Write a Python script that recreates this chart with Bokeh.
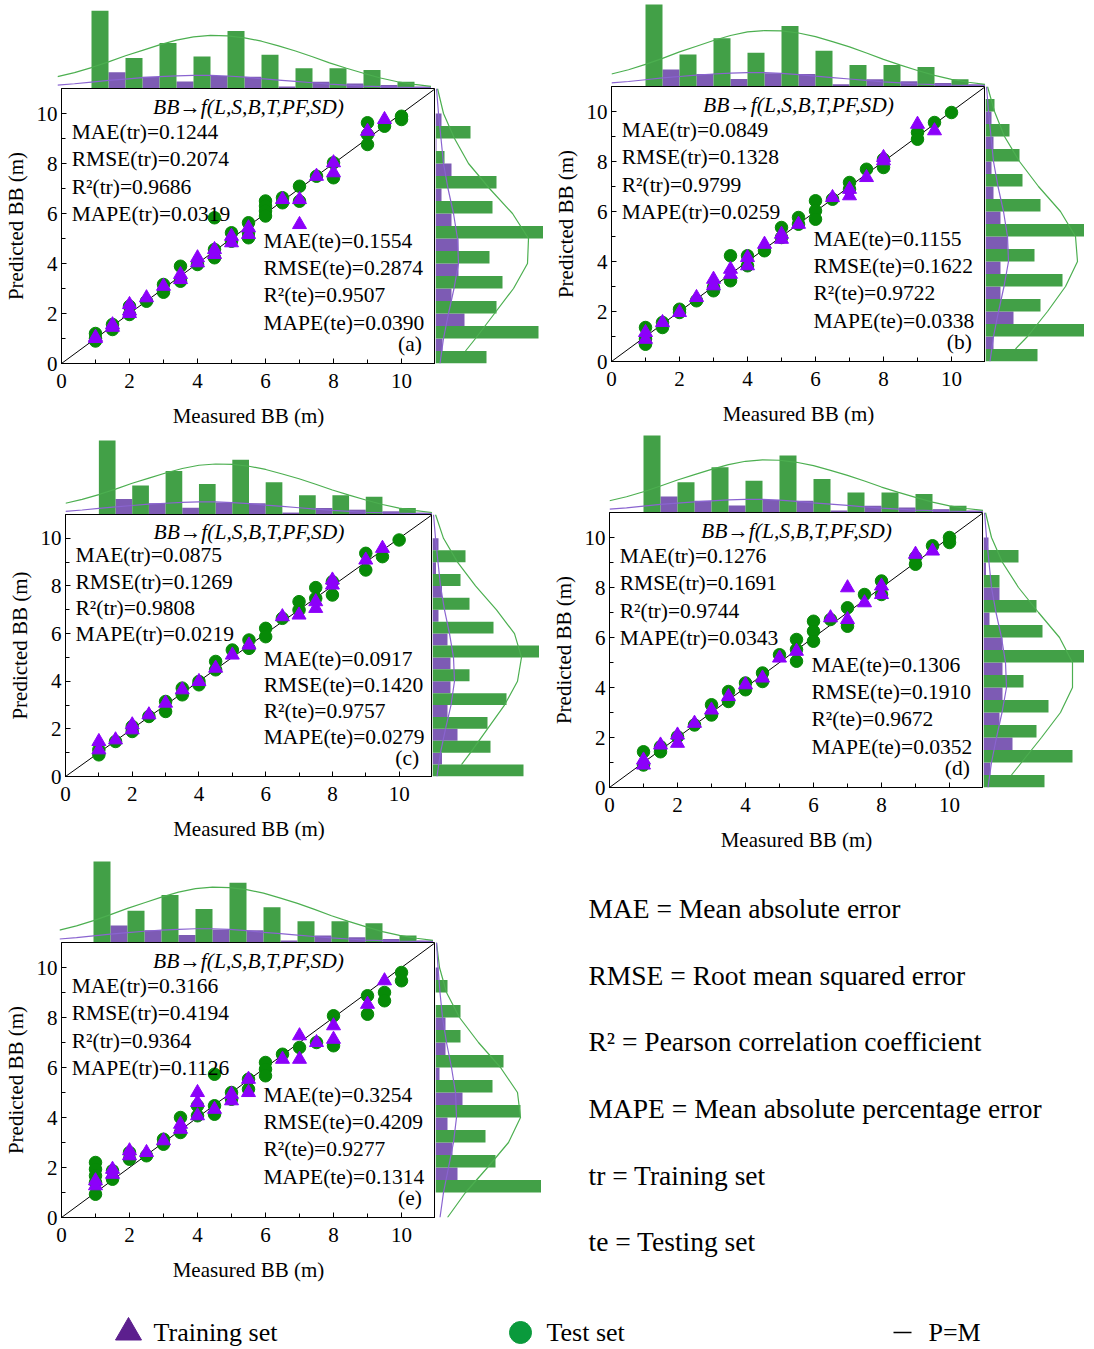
from bokeh.plotting import figure
from bokeh.models import Range1d, SingleIntervalTicker
from bokeh.layouts import column, row
from bokeh.embed import file_html
from bokeh.resources import INLINE
from bokeh.core.properties import value

FONT = "Liberation Serif"
GREEN_PT = "#078a07"
PURPLE_PT = "#8c00fa"
GREEN_H = "#42a047"
PURPLE_H = "#7d5bb4"
GREEN_L = "#4caf50"
PURPLE_L = "#8a64d0"

# ---------------- shared marginal (measured BB) histogram ----------------
top_green_left = [1, 2, 3, 4, 5, 6, 7, 8, 9, 10]
top_green = [23, 9, 13.5, 9.5, 17, 10, 6, 6, 5.5, 2]
top_purple_left = [1.5, 2.5, 3.5, 4.5, 5.5, 6.5, 7.5, 8.5, 9.5, 10.5]
top_purple = [4.8, 3.5, 2.1, 3.7, 3.5, 0.6, 2.0, 1.5, 1.0, 0.6]
top_kde_x = [0, 0.5, 1, 1.5, 2, 2.5, 3, 3.5, 4, 4.5, 5, 5.5, 6, 6.5, 7, 7.5, 8, 8.5, 9, 9.5,
             10, 10.5, 11]
top_kde_green = [3.5, 4.7, 6.2, 7.9, 9.7, 11.3, 12.9, 14.3, 15.3, 15.7, 15.6, 15.0, 14.0, 12.6,
                 11.1, 9.4, 7.6, 6.0, 4.5, 3.1, 2.0, 1.2, 0.6]
top_kde_purple = [1.0, 1.4, 1.9, 2.4, 2.8, 3.2, 3.5, 3.75, 3.9, 3.9, 3.7, 3.35, 2.9, 2.5, 2.1,
                  1.7, 1.3, 1.0, 0.7, 0.55, 0.4, 0.3, 0.2]

# right (predicted BB) histogram bins
right_green_low = [0, 1, 2, 3, 4, 5, 6, 7, 8, 9, 10]
right_purple_low = [0.5, 1.5, 2.5, 3.5, 4.5, 5.5, 6.5, 7.5, 8.5, 9.5]
rk_y = [0.5, 1, 2, 3, 4, 5, 6, 7, 8, 9, 10, 11]
rk_y_e = [0, 1, 2, 3, 4, 5, 6, 7, 8, 9, 10, 11]
rk_purple_y = [0, 1, 2, 3, 4, 5, 6, 7, 8, 9, 10, 11]

# ---------------- panel (a) ----------------
a_test_x = [1, 1, 1, 1.5, 1.5, 2, 2, 2.5, 3, 3, 3.5, 3.5, 4, 4.5, 4.5, 4.5, 5, 5, 5.5, 5.5, 5.5,
            6, 6, 6, 6, 6.5, 6.5, 7, 7, 7.5, 8, 8, 9, 9, 9, 9.5, 10, 10]
a_test_y = [1.2, 1.0, 0.9, 1.56, 1.36, 2.29, 1.96, 2.49, 3.16, 2.85, 3.89, 3.29, 3.96, 5.83, 4.56, 4.23,
            5.23, 4.89, 5.63, 5.23, 5.03, 6.5, 6.3, 6.1, 5.9, 6.63, 6.43, 7.09, 6.49, 7.49, 8.03, 7.43,
            9.63, 9.16, 8.76, 9.49, 9.89, 9.76]
a_train_x = [1, 1, 1.5, 1.5, 2, 2, 2, 2.5, 3, 3.5, 3.5, 4, 4, 4.5, 4.5, 5, 5, 5.5, 5.5, 6.5, 7, 7,
             7.5, 8, 8, 9, 9.5]
a_train_y = [1.0, 1.05, 1.55, 1.45, 2.36, 2.1, 2.0, 2.63, 3.09, 3.56, 3.36, 4.23, 4.03, 4.56, 4.36,
             5.09, 4.83, 5.43, 5.16, 6.56, 6.56, 5.56, 7.49, 8.03, 7.63, 9.29, 9.76]
a_right_green = [51, 103, 61, 67, 54, 110, 57, 61, 9, 35, 0]
a_right_purple = [7, 29, 16, 23, 23, 16, 6, 16, 1, 6]
a_rk_green = [30, 40, 59, 78, 92, 93, 77, 54, 33, 19, 8, 2]
a_rk_purple = [4.5, 8, 13, 18.5, 23, 22, 18, 12.5, 8, 5.5, 3, 1]
a_tr = ["MAE(tr)=0.1244", "RMSE(tr)=0.2074", "R²(tr)=0.9686", "MAPE(tr)=0.0319"]
a_te = ["MAE(te)=0.1554", "RMSE(te)=0.2874", "R²(te)=0.9507", "MAPE(te)=0.0390"]

# ---------------- panel (b) ----------------
b_test_x = [1, 1, 1, 1.5, 1.5, 2, 2, 2.5, 3, 3, 3.5, 3.5, 4, 4, 4.5, 5, 5, 5.5, 5.5, 6, 6, 6,
            6.5, 7, 7, 7.5, 8, 8, 9, 9, 9.5, 10]
b_test_y = [1.36, 0.9, 0.69, 1.56, 1.36, 2.09, 1.96, 2.43, 2.96, 2.83, 4.23, 3.23, 4.23, 3.83, 4.43,
            5.36, 4.96, 5.76, 5.49, 6.43, 6.03, 5.69, 6.49, 7.16, 6.89, 7.69, 8.09, 7.76, 9.16, 8.89,
            9.56, 9.96]
b_train_x = [1, 1, 1.5, 2, 2.5, 3, 3, 3.5, 3.5, 4, 4, 4.5, 5, 5, 5.5, 6.5, 7, 7, 7.5, 8, 8, 9, 9.5]
b_train_y = [1.16, 0.89, 1.56, 1.96, 2.56, 3.29, 3.03, 3.69, 3.49, 4.16, 3.83, 4.69, 5.09, 4.89, 5.49,
             6.56, 6.89, 6.63, 7.36, 8.16, 8.03, 9.49, 9.23]
b_right_green = [52, 99, 55, 77, 49, 107, 55, 37, 34, 24, 9]
b_right_purple = [8, 28, 15, 15, 22, 15, 8, 6, 8, 6]
b_rk_green = [30, 42, 62, 80, 92, 90, 75, 53, 34, 19, 9, 2]
b_rk_purple = [4.5, 8, 13, 18.5, 23, 22, 18, 12.5, 8, 5.5, 3, 1]
b_tr = ["MAE(tr)=0.0849", "RMSE(tr)=0.1328", "R²(tr)=0.9799", "MAPE(tr)=0.0259"]
b_te = ["MAE(te)=0.1155", "RMSE(te)=0.1622", "R²(te)=0.9722", "MAPE(te)=0.0338"]

# ---------------- panel (c) ----------------
c_test_x = [1, 1, 1.5, 2, 2, 2.5, 3, 3, 3.5, 3.5, 4, 4, 4.5, 4.5, 5, 5.5, 5.5, 6, 6, 6.5, 7, 7,
            7.5, 7.5, 8, 8, 9, 9, 9.5, 10]
c_test_y = [1.12, 0.91, 1.47, 2.1, 1.89, 2.52, 3.15, 2.73, 3.71, 3.43, 3.99, 3.85, 4.83, 4.48, 5.31,
            5.73, 5.38, 6.22, 5.87, 6.64, 7.34, 6.99, 7.93, 7.48, 8.18, 7.62, 9.37, 8.67, 9.23, 9.93]
c_train_x = [1, 1, 1.5, 2, 2, 2.5, 3, 3.5, 4, 4.5, 5, 5.5, 6.5, 7, 7.5, 7.5, 8, 8, 9, 9.5]
c_train_y = [1.47, 1.12, 1.54, 2.17, 1.96, 2.59, 3.08, 3.64, 3.99, 4.55, 5.1, 5.52, 6.71, 6.78, 7.34,
             7.06, 8.25, 8.04, 9.09, 9.58]
c_right_green = [91, 58, 55, 74, 37, 107, 61, 37, 28, 33, 0]
c_right_purple = [9.5, 25, 15, 18, 18, 15, 6, 9.5, 3.5, 6]
c_rk_green = [29, 38, 55, 72, 85, 89, 82, 64, 43, 25, 11, 3]
c_rk_purple = [4.5, 8, 13, 18.5, 22, 21, 17, 12, 8, 5.5, 3, 1]
c_tr = ["MAE(tr)=0.0875", "RMSE(tr)=0.1269", "R²(tr)=0.9808", "MAPE(tr)=0.0219"]
c_te = ["MAE(te)=0.0917", "RMSE(te)=0.1420", "R²(te)=0.9757", "MAPE(te)=0.0279"]

# ---------------- panel (d) ----------------
d_test_x = [1, 1, 1.5, 1.5, 2, 2.5, 3, 3, 3.5, 3.5, 4, 4, 4.5, 4.5, 5, 5.5, 5.5, 5.5, 6, 6, 6,
            6.5, 7, 7, 7.5, 8, 8, 9, 9, 9.5, 10, 10]
d_test_y = [1.43, 0.9, 1.63, 1.43, 2.03, 2.5, 3.31, 2.9, 3.84, 3.44, 4.18, 3.91, 4.58, 4.24, 5.31,
            5.92, 5.52, 5.05, 6.65, 6.25, 5.85, 6.72, 7.19, 6.45, 7.72, 8.26, 7.72, 9.2, 8.93, 9.67,
            10.0, 9.8]
d_train_x = [1, 1, 1.5, 2, 2, 2.5, 3, 3.5, 4, 4.5, 5, 5.5, 6.5, 7, 7, 7.5, 8, 8, 9, 9.5]
d_train_y = [1.1, 0.9, 1.7, 2.1, 1.77, 2.57, 3.1, 3.64, 4.11, 4.38, 5.18, 5.45, 6.79, 7.99, 6.72,
             7.39, 8.06, 7.72, 9.33, 9.46]
d_right_green = [61, 89, 53, 65, 40, 105, 59, 53, 16, 35, 0]
d_right_purple = [7, 29, 16, 19, 19, 19, 6, 16, 2.5, 5]
d_rk_green = [28, 38, 58, 77, 89, 89, 76, 55, 35, 19, 8, 2]
d_rk_purple = [4.5, 8, 13, 18.5, 23, 22, 18, 12.5, 8, 5.5, 3, 1]
d_tr = ["MAE(tr)=0.1276", "RMSE(tr)=0.1691", "R²(tr)=0.9744", "MAPE(tr)=0.0343"]
d_te = ["MAE(te)=0.1306", "RMSE(te)=0.1910", "R²(te)=0.9672", "MAPE(te)=0.0352"]

# ---------------- panel (e) ----------------
e_test_x = [1, 1, 1, 1, 1, 1.5, 1.5, 2, 2, 2.5, 3, 3, 3.5, 3.5, 4, 4, 4.5, 4.5, 4.5, 5, 5, 5.5, 5.5,
            6, 6, 6, 6.5, 7, 7.5, 8, 8, 9, 9, 9.5, 9.5, 10, 10]
e_test_y = [2.2, 1.93, 1.67, 1.4, 0.93, 1.87, 1.53, 2.6, 2.33, 2.47, 3.13, 2.93, 4.0, 3.4, 4.47, 4.07,
            5.73, 4.47, 4.13, 5.0, 4.73, 5.53, 5.13, 6.2, 5.93, 5.67, 6.53, 6.8, 7.0, 8.07, 6.87,
            8.87, 8.13, 9.0, 8.67, 9.8, 9.47]
e_train_x = [1, 1, 1.5, 1.5, 2, 2, 2.5, 3, 3.5, 3.5, 4, 4, 4, 4.5, 5, 5, 5.5, 5.5, 6.5, 7, 7, 7.5,
             8, 8, 9, 9.5]
e_train_y = [1.47, 1.27, 1.93, 1.73, 2.67, 2.47, 2.6, 3.07, 3.73, 3.53, 5.0, 4.6, 4.07, 4.33, 4.93,
             4.67, 5.53, 5.0, 6.33, 7.27, 6.33, 7.0, 7.67, 7.13, 8.53, 9.47]
e_right_green = [0, 107, 60, 50, 85, 57, 68, 25, 25, 12, 0]
e_right_purple = [0, 22, 17, 12, 27, 4, 10, 10, 0, 3]
e_rk_green = [12, 30, 52, 73, 85, 82, 65, 43, 24, 11, 4, 1]
e_rk_purple = [4.5, 8, 13, 18, 21, 20, 16, 11, 7, 4.5, 2.5, 1]
e_tr = ["MAE(tr)=0.3166", "RMSE(tr)=0.4194", "R²(tr)=0.9364", "MAPE(tr)=0.1126"]
e_te = ["MAE(te)=0.3254", "RMSE(te)=0.4209", "R²(te)=0.9277", "MAPE(te)=0.1314"]

pm_line = [0, 11]
title_txt = "BB→f(L,S,B,T,PF,SD)"

legend_lines = ["MAE = Mean absolute error", "RMSE = Root mean squared error",
                "R² = Pearson correlation coefficient", "MAPE = Mean absolute percentage error",
                "tr = Training set", "te = Testing set"]


def blank(p):
    p.grid.visible = False
    p.outline_line_color = None
    p.background_fill_color = "white"
    p.border_fill_color = "white"


def make_panel(tag, tr_stats, te_stats, tr_x, tr_y, te_x, te_y, r_green, r_purple,
               rkg_y, rk_green, rk_purple, border, fw, fh, bb, top_h, top_px, rw):
    xr = Range1d(0, 11)
    yr = Range1d(0, 11)

    # top marginal histogram
    top = figure(frame_width=fw, frame_height=top_h, min_border_left=border, min_border_right=0,
                 min_border_top=0, min_border_bottom=0, x_range=xr,
                 y_range=Range1d(0, 23.0 * top_h / top_px),
                 x_axis_location=None, y_axis_location=None, toolbar_location=None, tools="",
                 output_backend="svg")
    blank(top)
    top.quad(left=top_purple_left, right=[v + 0.5 for v in top_purple_left], bottom=0,
             top=top_purple, fill_color=PURPLE_H, line_color=None)
    top.quad(left=top_green_left, right=[v + 0.5 for v in top_green_left], bottom=0,
             top=top_green, fill_color=GREEN_H, line_color=None)
    top.line(top_kde_x, top_kde_green, line_color=GREEN_L, line_width=1.2)
    top.line(top_kde_x, top_kde_purple, line_color=PURPLE_L, line_width=1.2)

    # main scatter
    p = figure(frame_width=fw, frame_height=fh, min_border_left=border, min_border_right=0,
               min_border_top=0, min_border_bottom=bb, x_range=xr, y_range=yr,
               toolbar_location=None, tools="", output_backend="svg",
               x_axis_label="Measured BB (m)", y_axis_label="Predicted BB (m)")
    p.grid.visible = False
    p.outline_line_color = "black"
    p.outline_line_width = 1
    p.background_fill_color = "white"
    p.border_fill_color = "white"
    for ax in (p.xaxis[0], p.yaxis[0]):
        ax.ticker = SingleIntervalTicker(interval=2, num_minor_ticks=2)
        ax.major_tick_in = 5
        ax.major_tick_out = 0
        ax.minor_tick_in = 4
        ax.minor_tick_out = 0
        ax.axis_line_color = "black"
        ax.major_tick_line_color = "black"
        ax.minor_tick_line_color = "black"
        ax.major_label_text_font = FONT
        ax.major_label_text_font_size = "21px"
        ax.major_label_text_color = "black"
        ax.axis_label_text_font = FONT
        ax.axis_label_text_font_size = "21px"
        ax.axis_label_text_font_style = "normal"
        ax.axis_label_text_color = "black"
    p.xaxis[0].major_label_standoff = 10
    p.xaxis[0].axis_label_standoff = 13
    p.yaxis[0].major_label_standoff = 4
    p.yaxis[0].axis_label_standoff = 6

    p.line(pm_line, pm_line, line_color="black", line_width=1)
    p.scatter(te_x, te_y, marker="circle", size=12.5, fill_color=GREEN_PT, line_color=GREEN_PT)
    p.scatter(tr_x, tr_y, marker="triangle", size=14, fill_color=PURPLE_PT, line_color=PURPLE_PT)

    p.text(x=[5.5], y=[10.28], text=[title_txt], text_font=value(FONT), text_font_size="21.5px",
           text_font_style="italic", text_align="center", text_baseline="middle", text_color="black")
    p.text(x=[0.3] * 4, y=[9.28, 8.18, 7.08, 6.0], text=tr_stats, text_font=value(FONT),
           text_font_size="21.5px", text_align="left", text_baseline="middle", text_color="black")
    p.text(x=[5.94] * 4, y=[4.92, 3.84, 2.74, 1.64], text=te_stats, text_font=value(FONT),
           text_font_size="21.5px", text_align="left", text_baseline="middle", text_color="black")
    p.text(x=[10.6], y=[0.78], text=[tag], text_font=value(FONT), text_font_size="21.5px",
           text_align="right", text_baseline="middle", text_color="black")

    # right marginal histogram
    rt = figure(frame_width=rw, frame_height=fh, min_border_left=0, min_border_right=0,
                min_border_top=0, min_border_bottom=bb, x_range=Range1d(0, rw), y_range=yr,
                x_axis_location=None, y_axis_location=None, toolbar_location=None, tools="",
                output_backend="svg")
    blank(rt)
    rt.quad(left=0, right=r_purple, bottom=right_purple_low,
            top=[v + 0.5 for v in right_purple_low], fill_color=PURPLE_H, line_color=None)
    rt.quad(left=0, right=r_green, bottom=right_green_low,
            top=[v + 0.5 for v in right_green_low], fill_color=GREEN_H, line_color=None)
    rt.line(rk_green, rkg_y, line_color=GREEN_L, line_width=1.2)
    rt.line(rk_purple, rk_purple_y, line_color=PURPLE_L, line_width=1.2)

    return column(top, row(p, rt))


pa = make_panel("(a)", a_tr, a_te, a_train_x, a_train_y, a_test_x, a_test_y, a_right_green,
                a_right_purple, rk_y, a_rk_green, a_rk_purple, 57, 374, 275, 68, 88, 77.7, 108)
pc = make_panel("(c)", c_tr, c_te, c_train_x, c_train_y, c_test_x, c_test_y, c_right_green,
                c_right_purple, rk_y, c_rk_green, c_rk_purple, 65, 367, 262, 70, 83, 74, 107)
pe = make_panel("(e)", e_tr, e_te, e_train_x, e_train_y, e_test_x, e_test_y, e_right_green,
                e_right_purple, rk_y_e, e_rk_green, e_rk_purple, 59, 374, 275, 68, 96, 81, 106)
pb = make_panel("(b)", b_tr, b_te, b_train_x, b_train_y, b_test_x, b_test_y, b_right_green,
                b_right_purple, rk_y, b_rk_green, b_rk_purple, 68, 374, 275, 66, 86, 82, 99)
pd_ = make_panel("(d)", d_tr, d_te, d_train_x, d_train_y, d_test_x, d_test_y, d_right_green,
                 d_right_purple, rk_y, d_rk_green, d_rk_purple, 66, 374, 275, 73, 84, 77, 101)

# abbreviations legend
leg = figure(width=541, height=426, x_range=Range1d(0, 541), y_range=Range1d(426, 0),
             x_axis_location=None, y_axis_location=None, toolbar_location=None, tools="",
             output_backend="svg", min_border=0)
blank(leg)
leg.text(x=[45] * 6, y=[48, 115, 181, 248, 315, 381], text=legend_lines, text_font=value(FONT),
         text_font_size="27.5px", text_align="left", text_baseline="middle", text_color="black")

# bottom legend
bot = figure(width=1078, height=60, x_range=Range1d(0, 1078), y_range=Range1d(60, 0),
             x_axis_location=None, y_axis_location=None, toolbar_location=None, tools="",
             output_backend="svg", min_border=0)
blank(bot)
bot.scatter([128], [46], marker="triangle", size=26, fill_color="#5c1f8e", line_color="#5c1f8e")
bot.scatter([520], [46], marker="circle", size=22, fill_color="#0a9a3c", line_color="#0a9a3c")
bot.segment(x0=[893], y0=[46], x1=[911], y1=[46], line_color="black", line_width=1.5)
bot.text(x=[153, 546, 928], y=[46, 46, 46], text=["Training set", "Test set", "P=M"],
         text_font=value(FONT), text_font_size="26px", text_align="left", text_baseline="middle",
         text_color="black")

layout = column(row(column(pa, pc, pe), column(pb, pd_, leg)), bot)

open("out.html", "w").write(file_html(layout, INLINE))
